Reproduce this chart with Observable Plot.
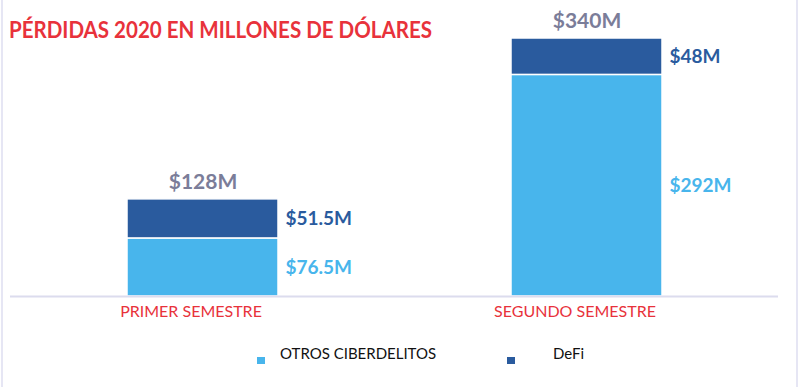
<!DOCTYPE html>
<html>
<head>
<meta charset="utf-8">
<script src="https://cdn.jsdelivr.net/npm/d3@7"></script>
<script src="https://cdn.jsdelivr.net/npm/@observablehq/plot@0.6"></script>
<style>
  body { margin: 0; background: #fff; font-family: Lato, "Open Sans", sans-serif; }
  #wrap { position: relative; width: 803px; height: 387px; overflow: hidden; }
  #frame { position: absolute; left: 1px; top: 0; width: 797px; height: 387px; border-left: 2px solid #e6e6f4; border-right: 2px solid #e6e6f4; box-sizing: border-box; pointer-events: none; }
  #title { position: absolute; left: 9px; top: 15px; font: bold 23.5px Lato, sans-serif; color: #E8323B; white-space: nowrap; transform-origin: 0 0; }
  #legend { position: relative; height: 57px; font: 15px Lato, sans-serif; color: #111; }
</style>
</head>
<body>
<div id="wrap">
  <div id="chart"></div>
  <div id="legend"></div>
  <div id="title"></div>
  <div id="frame"></div>
</div>
<script>
const titulo = "PÉRDIDAS 2020 EN MILLONES DE DÓLARES";
const semestres = ["PRIMER SEMESTRE", "SEGUNDO SEMESTRE"];
const series = ["OTROS CIBERDELITOS", "DeFi"];
const otros = [76.5, 292];
const defi = [51.5, 48];
const totales = [128, 340];
const colores = ["#48B5EC", "#2A5B9E"];
const colorTotal = "#7B7D99";
const colorEje = "#E8323B";

const rows = [];
semestres.forEach((s, i) => rows.push({sem: s, serie: series[0], value: otros[i]}));
semestres.forEach((s, i) => rows.push({sem: s, serie: series[1], value: defi[i]}));
const tot = semestres.map((s, i) => ({sem: s, total: totales[i]}));

const tEl = document.getElementById("title");
tEl.textContent = titulo;
const tw = tEl.getBoundingClientRect().width;
tEl.style.transform = `scaleX(${423 / tw})`;

const bw = 151;
const plot = Plot.plot({
  width: 803,
  height: 330,
  marginTop: 38,
  marginBottom: 34,
  marginLeft: 10,
  marginRight: 25,
  style: {fontFamily: "Lato, sans-serif", background: "white", overflow: "visible"},
  x: {domain: semestres, paddingInner: 0.607, paddingOuter: 0.3035, label: null},
  y: {domain: [0, 340], axis: null},
  color: {domain: series, range: colores},
  marks: [
    Plot.axisX({tickSize: 0, tickPadding: 9, fontSize: 16, color: colorEje, label: null, dx: -12}),
    Plot.barY(rows, {x: "sem", y: "value", fill: "serie", stroke: "white", strokeWidth: 1.5}),
    Plot.ruleY([0], {stroke: "#dcdcee", strokeWidth: 2}),
    Plot.text(rows, Plot.stackY({x: "sem", y: "value", z: "serie",
      text: d => `$${d.value}M`, fill: "serie",
      dx: bw / 2 + 7, textAnchor: "start", fontSize: 19, fontWeight: "bold"})),
    Plot.text(tot, {x: "sem", y: "total", text: d => `$${d.total}M`, dy: -17,
      fill: colorTotal, fontSize: 21, fontWeight: "bold"})
  ]
});
document.getElementById("chart").appendChild(plot);

const leg = document.getElementById("legend");
const legPos = [{sw: 257, tx: 280}, {sw: 507, tx: 553}];
series.forEach((s, i) => {
  const sw = document.createElement("div");
  sw.style.cssText = `position:absolute;left:${legPos[i].sw}px;top:27px;width:8px;height:7px;background:${colores[i]}`;
  leg.appendChild(sw);
  const t = document.createElement("div");
  t.textContent = s;
  t.style.cssText = `position:absolute;left:${legPos[i].tx}px;top:14px;font:15px Lato,sans-serif;color:#111`;
  leg.appendChild(t);
});
</script>
</body>
</html>
